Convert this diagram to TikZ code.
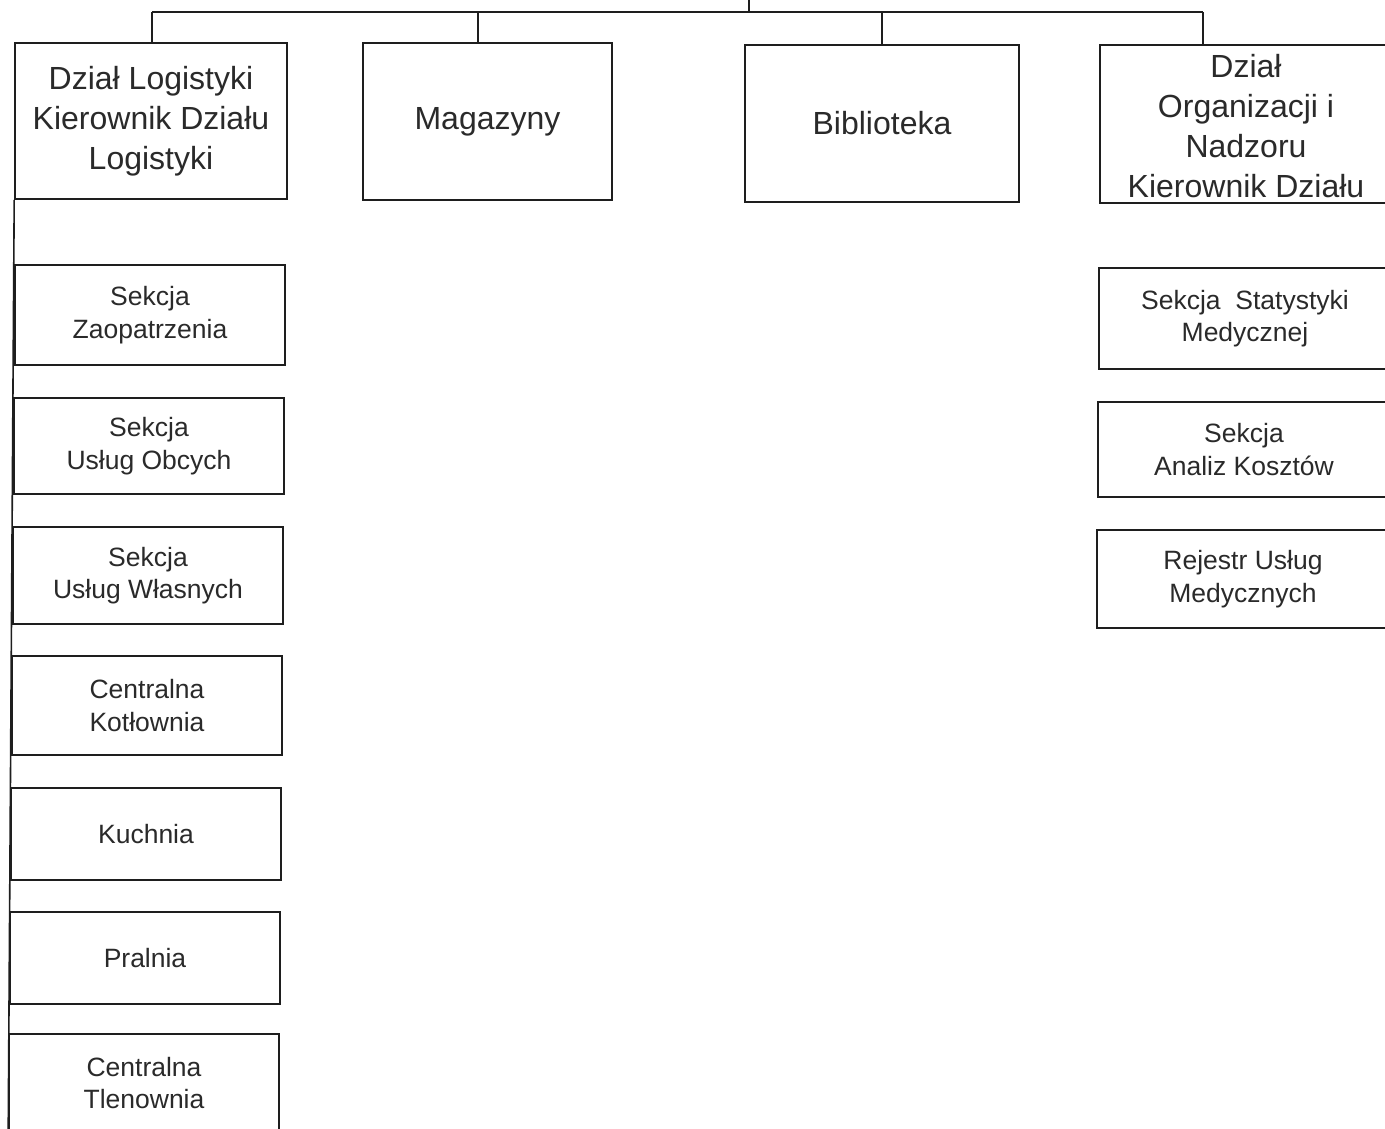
\documentclass[tikz,border=0pt]{standalone}
\usepackage{fontspec}
\setmainfont{Liberation Sans}
\definecolor{ink}{HTML}{1E1E1E}
\definecolor{txt}{HTML}{2A2A2A}
\begin{document}
\begin{tikzpicture}[x=1pt,y=-1pt,
  box/.style={draw=ink, line width=1.6pt, rectangle, inner sep=0pt, align=center, text=txt},
  bigtxt/.style={font=\fontsize{32}{40}\selectfont},
  smalltxt/.style={font=\fontsize{26.5}{32.5}\selectfont},
  link/.style={draw=ink, line width=1.6pt}]
\useasboundingbox[fill=white] (0,0) rectangle (1385,1128);
% top row
\node[box,bigtxt,minimum width=272pt,minimum height=156pt] (dl) at (151,121) {Dział Logistyki\\Kierownik Działu\\Logistyki};
\node[box,bigtxt,minimum width=249pt,minimum height=157pt] (mag) at (487.5,121.5) {Magazyny};
\node[box,bigtxt,minimum width=274pt,minimum height=157pt] (bib) at (882,123.5) {Biblioteka};
\node[box,minimum width=292pt,minimum height=158pt] (org) at (1246,124) {};
\node[bigtxt,align=center,text=txt,inner sep=0pt] (orgt) at (1246,126.5) {Dział\\Organizacji i\\Nadzoru\\Kierownik Działu};
% left column
\node[box,smalltxt,minimum width=270pt,minimum height=100pt] (zaop) at (150,315) {Sekcja\\Zaopatrzenia};
\node[box,smalltxt,minimum width=270pt,minimum height=96pt] (obcy) at (149,446) {Sekcja\\Usług Obcych};
\node[box,smalltxt,minimum width=270pt,minimum height=97pt] (wlas) at (148,575.5) {Sekcja\\Usług Własnych};
\node[box,smalltxt,minimum width=270pt,minimum height=99pt] (kotl) at (147,705.5) {Centralna\\Kotłownia};
\node[box,smalltxt,minimum width=270pt,minimum height=92pt] (kuch) at (146,834) {Kuchnia};
\node[box,smalltxt,minimum width=270pt,minimum height=92pt] (pral) at (145,958) {Pralnia};
\node[box,smalltxt,minimum width=270pt,minimum height=98pt] (tlen) at (144,1083) {Centralna\\Tlenownia};
% right column
\node[box,smalltxt,minimum width=292pt,minimum height=101pt] (stat) at (1245,318.5) {Sekcja\ \ Statystyki\\Medycznej};
\node[box,smalltxt,minimum width=292pt,minimum height=95pt] (anal) at (1244,449.5) {Sekcja\\Analiz Kosztów};
\node[box,smalltxt,minimum width=292pt,minimum height=98pt] (rej) at (1243,579) {Rejestr Usług\\Medycznych};
% connectors
\coordinate (top) at (749,-2);
\coordinate (jn) at (749,12);
\coordinate (hl) at (152,12);
\coordinate (hm) at (478,12);
\coordinate (hb) at (882,12);
\coordinate (hr) at (1203,12);
\draw[link] (top) -- (jn);
\draw[link] (hl) -- (hr);
\draw[link] (hl) -- (hl |- dl.north);
\draw[link] (hm) -- (hm |- mag.north);
\draw[link] (hb) -- (bib.north);
\draw[link] (hr) -- (hr |- org.north);
\draw[link] (dl.south west) -- (tlen.south west);
\end{tikzpicture}
\end{document}
